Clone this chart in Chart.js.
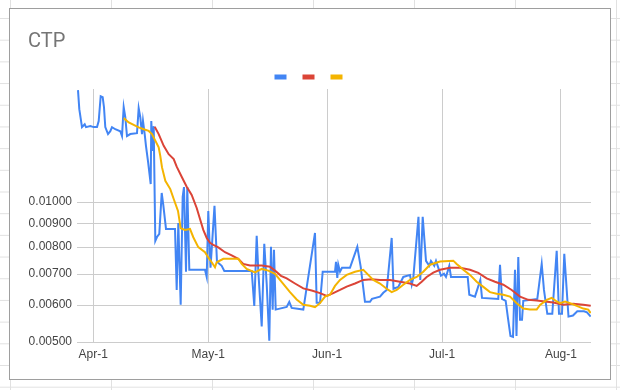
<!DOCTYPE html>
<html>
<head>
<meta charset="utf-8">
<title>CTP</title>
<script src="https://cdn.jsdelivr.net/npm/chart.js@4.4.0/dist/chart.umd.min.js"></script>
<style>
  html, body {
    margin: 0;
    width: 620px;
    height: 390px;
    overflow: hidden;
  }
  body {
    background-color: #ffffff;
    background-image:
      linear-gradient(to right, #e1e1e1 1px, transparent 1px),
      linear-gradient(to bottom, #e1e1e1 1px, transparent 1px);
    background-size: 101px 21.7px;
    background-position: 10px 18px;
  }
  #box {
    position: absolute;
    left: 9px;
    top: 8px;
    width: 600px;
    height: 370px;
    border: 1px solid #9e9e9e;
    background: #ffffff;
  }
</style>
</head>
<body>
<div id="box"><canvas id="ctp-chart"></canvas></div>
<script>
// x values are days counted from Apr-1
const xTickDays = [0, 30, 61, 91, 122];
const xTickLabels = ['Apr-1', 'May-1', 'Jun-1', 'Jul-1', 'Aug-1'];
const yTicks = [0.005, 0.006, 0.007, 0.008, 0.009, 0.01];

/** PRICE (blue) */
const blueDays = [
  -3.99, -3.65, -2.95, -2.24, -1.90, -0.78, 0.10, 0.97, 1.41, 1.93,
  2.45, 2.79, 3.13, 3.84, 4.44, 4.88, 5.74, 7.04, 7.49, 7.93,
  8.35, 8.79, 9.65, 11.40, 11.84, 12.26, 12.71, 12.97, 13.41, 13.75,
  14.27, 14.98, 15.13, 15.50, 15.76, 16.18, 16.62, 17.22, 17.85, 18.26,
  18.97, 21.32, 21.76, 22.18, 22.80, 23.32, 23.66, 24.19, 24.52, 25.05,
  29.14, 29.59, 30.00, 30.58, 30.97, 31.62, 32.27, 33.50, 34.18, 41.33,
  42.00, 42.63, 43.05, 43.94, 44.61, 45.24, 45.92, 46.36, 46.80, 47.14,
  47.59, 50.46, 51.13, 51.76, 54.79, 57.84, 58.28, 59.15, 59.85, 63.06,
  63.32, 63.66, 63.92, 64.37, 64.89, 66.97, 68.88, 69.76, 70.88, 72.19,
  72.71, 74.80, 75.66, 76.55, 77.85, 78.32, 79.57, 80.88, 82.63, 83.07,
  83.49, 84.84, 85.31, 85.94, 86.80, 87.66, 88.10, 88.96, 89.41, 89.85,
  90.71, 91.49, 92.01, 92.88, 93.32, 97.68, 98.10, 99.58, 100.97, 101.41,
  105.66, 106.11, 106.63, 107.59, 108.19, 108.84, 109.50, 110.02, 110.41, 110.88,
  111.33, 111.85, 112.18, 115.84, 116.99, 117.58, 118.45, 119.75, 120.90, 121.50,
  122.28, 122.88, 123.98, 125.15, 126.27, 128.02, 128.80, 129.77,
];
const blueValues = [
  0.01740, 0.01584, 0.01449, 0.01470, 0.01449, 0.01456, 0.01449, 0.01449, 0.01493, 0.01689,
  0.01681, 0.01599, 0.01449, 0.01400, 0.01420, 0.01449, 0.01434, 0.01420, 0.01386, 0.01599,
  0.01522, 0.01386, 0.01400, 0.01406, 0.01591, 0.01522, 0.01400, 0.01493, 0.01400, 0.01319,
  0.01225, 0.01093, 0.01493, 0.01287, 0.01456, 0.00825, 0.00841, 0.00854, 0.01046, 0.00986,
  0.00875, 0.00875, 0.00647, 0.00901, 0.00601, 0.01026, 0.01077, 0.00708, 0.01077, 0.00715,
  0.00715, 0.00690, 0.00956, 0.00722, 0.00809, 0.00981, 0.00744, 0.00729, 0.00711, 0.00711,
  0.00598, 0.00846, 0.00711, 0.00540, 0.00813, 0.00667, 0.00503, 0.00801, 0.00587, 0.00789,
  0.00587, 0.00595, 0.00610, 0.00592, 0.00587, 0.00858, 0.00607, 0.00607, 0.00708, 0.00708,
  0.00744, 0.00687, 0.00733, 0.00708, 0.00722, 0.00722, 0.00801, 0.00726, 0.00610, 0.00610,
  0.00619, 0.00626, 0.00638, 0.00647, 0.00837, 0.00651, 0.00657, 0.00690, 0.00697, 0.00664,
  0.00687, 0.00929, 0.00680, 0.00929, 0.00747, 0.00729, 0.00747, 0.00729, 0.00747, 0.00729,
  0.00694, 0.00701, 0.00690, 0.00729, 0.00690, 0.00690, 0.00632, 0.00626, 0.00680, 0.00622,
  0.00619, 0.00733, 0.00619, 0.00613, 0.00563, 0.00515, 0.00513, 0.00715, 0.00515, 0.00762,
  0.00558, 0.00558, 0.00613, 0.00619, 0.00736, 0.00647, 0.00575, 0.00575, 0.00785, 0.00575,
  0.00575, 0.00774, 0.00567, 0.00570, 0.00582, 0.00582, 0.00579, 0.00567,
];

/** SLOW AVERAGE (red) */
const redDays = [
  16.02, 17.06, 18.37, 19.67, 20.98, 21.76, 23.06, 24.37, 25.67, 26.98,
  27.84, 28.70, 29.59, 30.45, 31.31, 32.61, 34.36, 36.11, 37.83, 39.13,
  40.88, 43.94, 46.10, 47.40, 48.97, 50.46, 52.62, 54.79, 56.98, 59.15,
  60.89, 62.61, 64.37, 66.11, 68.28, 70.44, 72.63, 74.80, 77.41, 80.02,
  82.63, 84.37, 85.68, 86.98, 88.70, 90.46, 93.07, 95.68, 98.28, 100.45,
  102.64, 104.80, 106.97, 109.16, 111.33, 113.49, 115.68, 117.85, 120.01, 122.62,
  125.23, 127.84, 129.77,
];
const redValues = [
  0.01451, 0.01400, 0.01321, 0.01267, 0.01237, 0.01191, 0.01133, 0.01079, 0.01036, 0.00971,
  0.00919, 0.00871, 0.00837, 0.00817, 0.00809, 0.00799, 0.00780, 0.00768, 0.00755, 0.00736,
  0.00730, 0.00730, 0.00726, 0.00712, 0.00694, 0.00685, 0.00668, 0.00652, 0.00645, 0.00637,
  0.00628, 0.00637, 0.00647, 0.00658, 0.00668, 0.00680, 0.00682, 0.00680, 0.00680, 0.00674,
  0.00668, 0.00660, 0.00674, 0.00690, 0.00705, 0.00715, 0.00722, 0.00722, 0.00715, 0.00704,
  0.00685, 0.00674, 0.00664, 0.00647, 0.00626, 0.00616, 0.00614, 0.00611, 0.00608, 0.00601,
  0.00604, 0.00601, 0.00598,
];

/** FAST AVERAGE (yellow) */
const yellowDays = [
  7.93, 9.24, 10.54, 11.84, 13.15, 14.45, 15.31, 16.18, 17.06, 17.48,
  17.93, 18.79, 20.09, 20.98, 22.10, 22.80, 23.92, 25.23, 26.09, 27.39,
  29.14, 30.00, 30.89, 31.75, 32.19, 33.92, 36.11, 37.83, 38.72, 40.02,
  42.19, 43.94, 45.66, 47.40, 48.97, 51.32, 53.06, 54.79, 56.54, 57.84,
  59.15, 60.45, 61.76, 63.06, 64.37, 66.11, 68.28, 70.44, 71.74, 73.05,
  74.80, 76.55, 77.85, 79.16, 80.88, 82.63, 84.37, 86.09, 87.85, 90.46,
  93.92, 94.80, 95.68, 96.54, 98.28, 100.03, 101.75, 103.50, 105.24, 106.97,
  108.72, 110.46, 112.18, 113.94, 115.68, 116.55, 118.30, 119.60, 120.90, 121.77,
  123.07, 124.38, 126.12, 127.84, 129.14, 129.77,
];
const yellowValues = [
  0.01515, 0.01483, 0.01465, 0.01447, 0.01434, 0.01422, 0.01400, 0.01355, 0.01311, 0.01256,
  0.01187, 0.01111, 0.01066, 0.01015, 0.00957, 0.00878, 0.00871, 0.00875, 0.00840, 0.00800,
  0.00780, 0.00760, 0.00742, 0.00724, 0.00742, 0.00755, 0.00755, 0.00755, 0.00736, 0.00718,
  0.00706, 0.00718, 0.00712, 0.00701, 0.00676, 0.00640, 0.00617, 0.00601, 0.00598, 0.00594,
  0.00606, 0.00626, 0.00632, 0.00660, 0.00680, 0.00697, 0.00708, 0.00715, 0.00697, 0.00680,
  0.00668, 0.00651, 0.00640, 0.00647, 0.00664, 0.00680, 0.00690, 0.00708, 0.00733, 0.00745,
  0.00748, 0.00736, 0.00726, 0.00715, 0.00697, 0.00674, 0.00657, 0.00640, 0.00635, 0.00632,
  0.00626, 0.00606, 0.00590, 0.00587, 0.00587, 0.00601, 0.00616, 0.00622, 0.00611, 0.00606,
  0.00611, 0.00606, 0.00598, 0.00590, 0.00587, 0.00577,
];

const toPoints = (days, values) => days.map((d, i) => ({ x: d, y: values[i] }));

const tickFont = { family: 'Arial, "Liberation Sans", sans-serif', size: 12 };

const lineStyle = (color, order) => ({
  borderColor: color,
  backgroundColor: color,
  borderWidth: 2,
  pointRadius: 0,
  tension: 0,
  fill: false,
  order,
});

const ctpCtx = document.getElementById('ctp-chart').getContext('2d');
const ctpChart = new Chart(ctpCtx, {
  type: 'line',
  data: {
    datasets: [
      { label: '', data: toPoints(blueDays, blueValues), ...lineStyle('#4285f4', 3) },
      { label: '', data: toPoints(redDays, redValues), ...lineStyle('#db4437', 2) },
      { label: '', data: toPoints(yellowDays, yellowValues), ...lineStyle('#f4b400', 1) },
    ],
  },
  options: {
    responsive: true,
    maintainAspectRatio: false,
    animation: false,
    layout: {
      padding: { left: 18, right: 19, top: 0, bottom: 0 },
    },
    plugins: {
      title: {
        display: true,
        text: 'CTP',
        align: 'start',
        color: '#757575',
        font: { family: 'Roboto, Arial, sans-serif', size: 20, weight: 'normal' },
        padding: { top: 20.5, bottom: 5.5 },
      },
      legend: {
        display: true,
        position: 'top',
        align: 'center',
        labels: {
          boxWidth: 10,
          boxHeight: 3,
          padding: 16,
          font: { size: 4 },
          // keep the series order (blue, red, yellow), not the draw order
          sort: (a, b) => a.datasetIndex - b.datasetIndex,
        },
      },
      tooltip: { enabled: false },
    },
    scales: {
      x: {
        type: 'linear',
        min: -4.25,
        max: 129.85,
        afterBuildTicks: (scale) => {
          scale.ticks = xTickDays.map((value) => ({ value }));
        },
        afterFit: (scale) => {
          scale.height = 37;
        },
        ticks: {
          autoSkip: false,
          maxRotation: 0,
          padding: 5,
          color: '#444444',
          font: tickFont,
          callback: (value) => xTickLabels[xTickDays.indexOf(value)],
        },
        grid: { color: '#cccccc', drawTicks: false },
        border: { display: false },
      },
      y: {
        type: 'logarithmic',
        min: 0.005,
        max: 0.0175,
        afterBuildTicks: (scale) => {
          scale.ticks = yTicks.map((value) => ({ value }));
        },
        afterFit: (scale) => {
          scale.width = 49;
        },
        ticks: {
          autoSkip: false,
          padding: 5,
          color: '#444444',
          font: tickFont,
          callback: (value) => Number(value).toFixed(5),
        },
        grid: { color: '#cccccc', drawTicks: false },
        border: { display: false },
      },
    },
  },
});
</script>
</body>
</html>
